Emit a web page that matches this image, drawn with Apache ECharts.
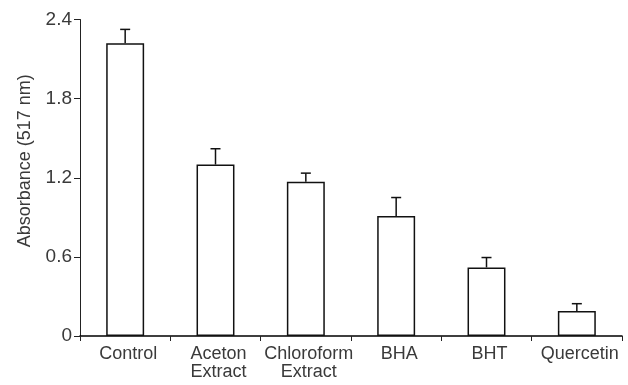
<!DOCTYPE html>
<html><head><meta charset="utf-8">
<script src="https://cdn.jsdelivr.net/npm/echarts@6/dist/echarts.min.js"></script>
<style>html,body{margin:0;padding:0;background:#fff}#c{width:628px;height:385px}</style>
</head><body><div id="c"></div>
<script>
const categories = ['Control', 'Aceton\nExtract', 'Chloroform\nExtract', 'BHA', 'BHT', 'Quercetin'];
const values = [2.22, 1.30, 1.17, 0.91, 0.52, 0.19];
const errors = [0.105, 0.12, 0.065, 0.14, 0.075, 0.055];
const yTicks = [0, 0.6, 1.2, 1.8, 2.4];

const font = 'Liberation Sans';
const chart = echarts.init(document.getElementById('c'));
chart.setOption({
  animation: false,
  grid: {left: 80, right: 6, top: 19.5, bottom: 49},
  xAxis: {
    type: 'category', data: categories,
    axisLine: {lineStyle: {color: '#000', width: 1.5}},
    axisTick: {show: true, length: 5, lineStyle: {color: '#222', width: 1}},
    axisLabel: {color: '#3a3a3a', fontFamily: font, fontSize: 18, lineHeight: 18, margin: 9, interval: 0, padding: [0, 0, 0, 6]}
  },
  yAxis: {
    type: 'value', min: 0, max: 2.4, interval: 0.6,
    name: 'Absorbance (517 nm)', nameLocation: 'middle', nameGap: 46,
    nameTextStyle: {color: '#3a3a3a', fontFamily: font, fontSize: 18, padding: [0, 0, 0, 34]},
    splitLine: {show: false},
    axisLine: {show: true, lineStyle: {color: '#222', width: 1}},
    axisTick: {show: true, length: 6, lineStyle: {color: '#222'}},
    axisLabel: {color: '#3a3a3a', fontFamily: font, fontSize: 19, margin: 8,
      formatter: v => yTicks.includes(Math.round(v*10)/10) ? String(Math.round(v*10)/10) : ''}
  },
  series: [
    {type: 'bar', data: values, barWidth: '42%',
     itemStyle: {color: '#fff', borderColor: '#111', borderWidth: 1.5}},
    {type: 'custom', data: values.map((v, i) => [i, v, v + errors[i]]),
     renderItem: (params, api) => {
       const p0 = api.coord([api.value(0), api.value(1)]);
       const p1 = api.coord([api.value(0), api.value(2)]);
       const hw = 5;
       return {type: 'group', children: [
         {type: 'line', shape: {x1: p0[0], y1: p0[1], x2: p1[0], y2: p1[1]}, style: {stroke: '#111', lineWidth: 1.5}},
         {type: 'line', shape: {x1: p1[0]-hw, y1: p1[1], x2: p1[0]+hw, y2: p1[1]}, style: {stroke: '#111', lineWidth: 1.5}}
       ]};
     }, z: 3}
  ]
});
</script></body></html>
